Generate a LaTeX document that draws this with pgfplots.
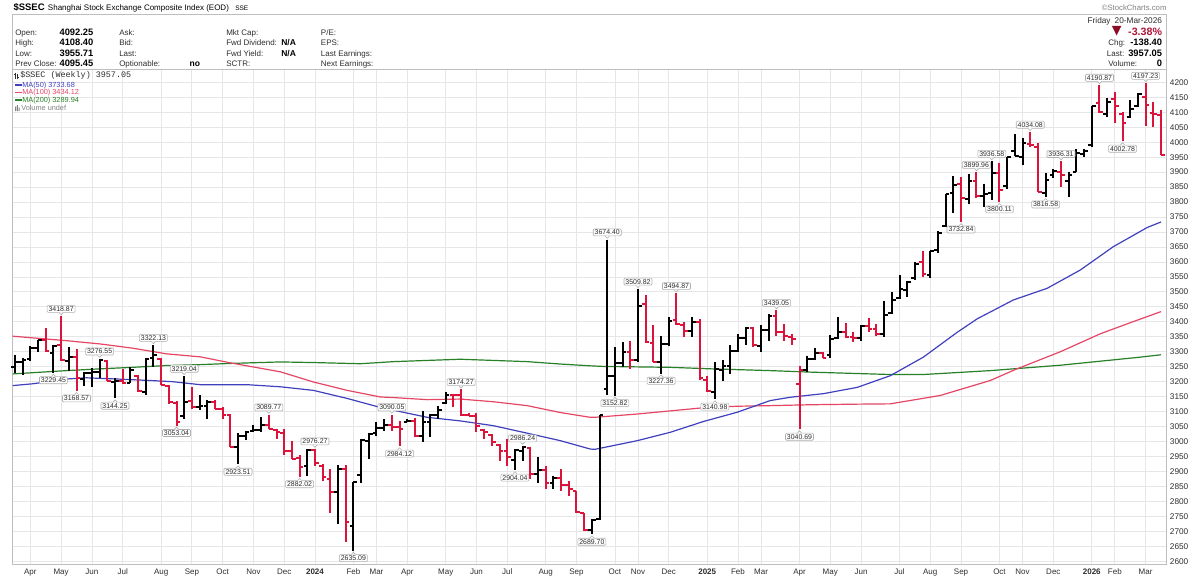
\documentclass[border=0pt]{standalone}
\usepackage{pgfplots}
\pgfplotsset{compat=1.18}
\usepackage{pgfplotstable}
\usepackage{fontspec}
\setmainfont{Liberation Sans}
\newfontfamily\monofont{Liberation Mono}
\newfontfamily\symbolfont{DejaVu Sans}

\definecolor{barred}{RGB}{220,20,60}
\definecolor{ma50}{RGB}{64,64,190}
\definecolor{ma100}{RGB}{228,70,100}
\definecolor{ma200}{RGB}{40,128,40}
\definecolor{gridgray}{RGB}{230,230,232}
\definecolor{yeargray}{RGB}{198,198,200}
\definecolor{framegray}{RGB}{190,190,190}
\definecolor{txtgray}{RGB}{45,45,45}
\definecolor{lblgray}{RGB}{175,175,175}
\definecolor{losscol}{RGB}{175,20,55}
\definecolor{lossdark}{RGB}{140,12,40}

\newcommand\fs[1]{\fontsize{#1}{#1}\selectfont}

% weekly OHLC of $SSEC, weeks closing above the previous close
\pgfplotstableread{
i o h l c
0 3250 3290 3229 3266
1 3266 3280 3221 3273
2 3275 3318 3270 3312
3 3312 3340 3298 3338
5 3295 3323 3229.45 3320
7 3270 3315 3237 3284
9 3208 3232 3185 3230
10 3230 3245 3182 3231
11 3231 3276.55 3212 3273
13 3198 3212 3144.25 3202
15 3197 3248 3196 3238
17 3165 3278 3154 3276
18 3278 3322.13 3248 3288
22 3085 3219.04 3075 3133
24 3117 3155 3105 3118
25 3118 3138 3077 3132
29 2983 3027 2923.51 3018
30 3018 3035 3004 3031
31 3035 3055 3032 3039
32 3040 3082 3032 3054
38 2917 2975 2886 2972
42 2830 2921 2724 2910
44 2718 2866 2635.09 2866
45 2888 3008 2863 3005
46 3002 3030 2941 3025
47 3027 3064 3019 3046
48 3046 3075 3036 3055
51 3066 3077 3064 3069
53 3019 3103 2997 3065
54 3065 3092 3014 3089
55 3088 3120 3077 3105
56 3130 3164 3125 3155
65 2940 2975 2904.04 2971
66 2970 2986.24 2936 2982
68 2890 2947 2863 2905
70 2860 2886 2841 2879
75 2705 2742 2689.70 2737
76 2740 3087.53 2737 3087.53
77 3174 3674.40 3155 3218
78 3220 3315 3152.82 3262
79 3262 3332 3248 3300
81 3272 3509.82 3265 3452
84 3265 3354 3227.36 3326
85 3326 3415 3320 3404
88 3368 3415 3349 3400
91 3165 3265 3140.98 3242
92 3240 3271 3204 3253
93 3253 3321 3226 3304
94 3304 3360 3299 3347
95 3347 3382 3321 3379
97 3320 3390 3299 3373
98 3373 3425 3337 3420
103 3238 3287 3232 3277
104 3277 3312 3271 3295
106 3290 3356 3280 3342
107 3345 3415 3343 3367
110 3347 3388 3337 3385
113 3360 3468 3349 3424
114 3430 3499 3427 3472
115 3478 3555 3477 3510
116 3505 3535 3482 3534
117 3545 3600 3541 3594
119 3555 3638 3546 3635
120 3640 3702 3630 3697
121 3720 3826 3716 3826
122 3830 3886 3764 3858
124 3810 3894 3794 3871
126 3820 3862 3785 3828
127 3830 3936.58 3807 3897
129 3855 3952 3845 3950
130 3970 4027 3954 3955
131 3950 4013 3924 3998
134 3830 3896 3816.58 3875
135 3890 3909 3880 3903
137 3870 3901 3818 3890
138 3900 3976 3900 3964
139 3960 3976 3952 3969
140 3990 4122 3985 4120
142 4094 4147 4085 4135
145 4085 4141 4080 4110
146 4120 4165 4119 4162
}\upweeks

% weeks closing below the previous close
\pgfplotstableread{
i o h l c
4 3338 3378 3300 3301
6 3323 3418.87 3270 3272
8 3284 3310 3168.57 3212
12 3268 3273 3204 3204
14 3202 3243 3193 3197
16 3218 3221 3165 3168
19 3275 3278 3189 3189
20 3185 3189 3126 3132
21 3130 3134 3053.04 3064
23 3135 3183 3110 3117
26 3132 3138 3110 3110
27 3110 3116 3077 3088
28 3088 3093 2982 2983
33 3055 3089.77 3043 3041
34 3040 3043 3010 3032
35 3030 3043 2954 2970
36 2970 3001 2941 2943
37 2945 2954 2882.02 2915
39 2972 2976.27 2917 2929
40 2920 2924 2869 2882
41 2874 2908 2763 2832
43 2910 2921 2663 2730
49 3055 3090.05 3036 3048
50 3048 3069 2984.12 3041
52 3069 3080 3014 3019
57 3155 3158 3114 3154
58 3155 3174.27 3086 3089
59 3090 3097 3084 3087
60 3087 3097 3033 3051
61 3040 3042 3008 3033
62 3022 3025 2984 2998
63 2988 2991 2936 2967
64 2968 3008 2919 2950
67 2980 2981 2875 2891
69 2905 2919 2841 2862
71 2879 2908 2836 2854
72 2855 2869 2817 2842
73 2835 2836 2763 2766
74 2760 2763 2702 2704
80 3300 3337 3243 3272
82 3460 3490 3328 3331
83 3330 3388 3265 3267
86 3405 3494.87 3388 3392
87 3390 3399 3349 3368
89 3400 3410 3205 3211
90 3205 3220 3165 3169
96 3379 3382 3315 3321
99 3420 3439.05 3354 3365
100 3365 3393 3337 3351
101 3350 3360 3321 3342
102 3193 3254 3040.69 3238
105 3296 3298 3278 3279
108 3367 3396 3345 3348
109 3348 3365 3334 3347
111 3385 3412 3365 3377
112 3377 3393 3354 3360
118 3600 3635 3549 3560
123 3860 3883 3732.84 3813
125 3870 3899.96 3815 3820
128 3897 3932 3800.11 3840
132 3995 4034.08 3983 3990
133 3985 3996 3835 3835
136 3900 3936.31 3851 3889
141 4130 4190.87 4099 4101
143 4146 4169 4065 4121
144 4095 4102 4002.78 4065
147 4152 4197.23 4054 4124
148 4099 4135 4052 4095.45
149 4092.25 4108.40 3955.71 3957.05
}\downweeks

% left (open) and right (close) ticks of an OHLC bar
\pgfdeclareplotmark{opentick}{%
  \pgfpathmoveto{\pgfqpoint{-2.8pt}{0pt}}\pgfpathlineto{\pgfqpoint{0pt}{0pt}}\pgfusepathqstroke}
\pgfdeclareplotmark{closetick}{%
  \pgfpathmoveto{\pgfqpoint{0pt}{0pt}}\pgfpathlineto{\pgfqpoint{2.8pt}{0pt}}\pgfusepathqstroke}

\pgfplotsset{
  hlrange/.style={only marks, mark=*, mark size=0pt, mark options={draw=none, fill=none},
    error bars/.cd, y dir=minus, y explicit, error mark=none,
    error bar style={draw=#1, line width=1.5pt, line cap=butt}},
  tickmarks/.style 2 args={only marks, mark=#1,
    mark options={draw=#2, line width=1.5pt, line cap=butt}},
}

\tikzset{vbox/.style={draw=lblgray, fill=white, rounded corners=0.8pt, line width=0.45pt,
   inner xsep=1.1pt, inner ysep=0.8pt, font=\fs{5.2}, text=txtgray,
   text height=3.7pt, text depth=0pt}}

% value tag above a weekly high
\newcommand\hilabel[2]{%
  \node[vbox, anchor=south, yshift=2.6pt] at (axis cs:#1,#2) {#2};
  \fill[white] (axis cs:#1,#2) ++(-1.5pt,2.9pt) -- ++(1.5pt,-1.7pt) -- ++(1.5pt,1.7pt) -- cycle;
  \draw[lblgray, line width=0.45pt] (axis cs:#1,#2) ++(-1.5pt,2.6pt) -- ++(1.5pt,-1.5pt) -- ++(1.5pt,1.5pt);
}
% value tag below a weekly low
\newcommand\lolabel[2]{%
  \node[vbox, anchor=north, yshift=-2.6pt] at (axis cs:#1,#2) {#2};
  \fill[white] (axis cs:#1,#2) ++(-1.5pt,-2.9pt) -- ++(1.5pt,1.7pt) -- ++(1.5pt,-1.7pt) -- cycle;
  \draw[lblgray, line width=0.45pt] (axis cs:#1,#2) ++(-1.5pt,-2.6pt) -- ++(1.5pt,1.5pt) -- ++(1.5pt,-1.5pt);
}

\begin{document}
\begin{tikzpicture}
\useasboundingbox (0,0) rectangle (900pt,-433.5pt);

\begin{axis}[
  at={(9.225pt,-423pt)}, anchor=south west,
  scale only axis, width=865.8pt, height=370.9pt,
  xmin=-0.35, xmax=149.74, ymin=2591, ymax=4243,
  clip=false,
  axis line style={draw=framegray, line width=0.6pt},
  major tick length=0pt,
  grid=major,
  major grid style={draw=gridgray, line width=0.6pt},
  xtick={2,6,10,14,19,23,27,31,35,39,44,47,51,56,60,64,69,73,78,81,85,90,94,97,102,106,110,115,119,123,128,131,135,140,143,147},
  xticklabels={Apr,May,Jun,Jul,Aug,Sep,Oct,Nov,Dec,\textbf{2024},Feb,Mar,Apr,May,Jun,Jul,Aug,Sep,Oct,Nov,Dec,\textbf{2025},Feb,Mar,Apr,May,Jun,Jul,Aug,Sep,Oct,Nov,Dec,\textbf{2026},Feb,Mar},
  extra x ticks={39,90,140},
  extra x tick labels={},
  extra x tick style={grid style={draw=yeargray, line width=0.6pt}},
  ytick={2600,2650,...,4200},
  yticklabel pos=right,
  xticklabel style={font=\fs{6}, text=txtgray, inner sep=0pt, yshift=-3.2pt},
  yticklabel style={font=\fs{6.2}, text=txtgray, inner sep=0pt, xshift=2.2pt},
  /pgf/number format/.cd, assume math mode=true, 1000 sep={}, fixed,
]

% moving averages of the weekly close
\addplot[ma200, line width=0.9pt] coordinates {
 (-0.3,3226) (6.7,3237) (11.1,3243) (15.3,3248) (19.7,3254) (24.1,3257) (28,3261)
 (34.5,3266) (38.8,3264) (44.9,3260) (49.2,3267) (57.9,3275) (66.6,3267) (70.9,3259)
 (74.8,3253) (76.5,3251) (85.2,3248) (90.4,3243) (98.2,3237) (103.4,3232) (113.8,3224)
 (118.1,3224) (126.8,3237) (135.9,3255) (146.3,3282) (149,3289.94)};
\addplot[ma100, line width=0.9pt] coordinates {
 (-0.3,3352) (6.7,3337) (11.1,3326) (15.3,3312) (19.7,3293) (24.1,3283) (28,3263)
 (34.5,3233) (38.8,3199) (43.2,3171) (47.5,3149) (49.2,3147) (53.6,3140) (57.9,3142)
 (62.2,3133) (66.6,3120) (70.9,3097) (74.8,3081) (75.4,3081) (80.9,3092) (89.5,3113)
 (93.9,3118) (98.2,3120) (103.4,3123) (109.5,3125) (113.8,3126) (120.3,3154)
 (126.8,3204) (130,3240) (135.9,3300) (141.1,3360) (145,3397) (149,3434.12)};
\addplot[ma50, line width=0.9pt] coordinates {
 (-0.3,3187) (2.3,3193) (6.7,3209) (9.3,3213) (13.2,3209) (17.6,3204) (20.5,3200)
 (24.1,3190) (30.2,3190) (34.5,3183) (38.8,3171) (43.2,3144) (47.5,3114) (53.6,3081)
 (57.9,3069) (62.2,3053) (66.6,3028) (70.9,3003) (74.8,2975) (75.4,2974) (80.9,3003)
 (85.2,3031) (89.5,3067) (93.9,3098) (98.2,3137) (100.8,3148) (105.1,3160) (109.5,3181)
 (113.8,3220) (118.1,3282) (122.5,3365) (125.1,3410) (129.8,3473) (134.2,3512)
 (138.5,3573) (142.8,3651) (147.2,3715) (149,3733.68)};

% OHLC bars: high-low range, open tick on the left, close tick on the right
\addplot[hlrange=black] table[x=i, y=h, y error expr={\thisrow{h}-\thisrow{l}}] {\upweeks};
\addplot[tickmarks={opentick}{black}] table[x=i, y=o] {\upweeks};
\addplot[tickmarks={closetick}{black}] table[x=i, y=c] {\upweeks};
\addplot[hlrange=barred] table[x=i, y=h, y error expr={\thisrow{h}-\thisrow{l}}] {\downweeks};
\addplot[tickmarks={opentick}{barred}] table[x=i, y=o] {\downweeks};
\addplot[tickmarks={closetick}{barred}] table[x=i, y=c] {\downweeks};

% swing highs and lows
\hilabel{6}{3418.87}
\hilabel{11}{3276.55}
\hilabel{18}{3322.13}
\hilabel{22}{3219.04}
\hilabel{33}{3089.77}
\hilabel{39}{2976.27}
\hilabel{49}{3090.05}
\hilabel{58}{3174.27}
\hilabel{66}{2986.24}
\hilabel{77}{3674.40}
\hilabel{81}{3509.82}
\hilabel{86}{3494.87}
\hilabel{99}{3439.05}
\hilabel{125}{3899.96}
\hilabel{127}{3936.58}
\hilabel{132}{4034.08}
\hilabel{136}{3936.31}
\hilabel{141}{4190.87}
\hilabel{147}{4197.23}
\lolabel{5}{3229.45}
\lolabel{8}{3168.57}
\lolabel{13}{3144.25}
\lolabel{21}{3053.04}
\lolabel{29}{2923.51}
\lolabel{37}{2882.02}
\lolabel{44}{2635.09}
\lolabel{50}{2984.12}
\lolabel{65}{2904.04}
\lolabel{75}{2689.70}
\lolabel{78}{3152.82}
\lolabel{84}{3227.36}
\lolabel{91}{3140.98}
\lolabel{102}{3040.69}
\lolabel{123}{3732.84}
\lolabel{128}{3800.11}
\lolabel{134}{3816.58}
\lolabel{144}{4002.78}
\end{axis}

% header, quote box and legend (coordinates in pixels, y downwards)
\begin{scope}[x=0.75pt, y=-0.75pt, every node/.style={inner sep=0pt}]
  \node[anchor=base west, font=\fs{7.1}\bfseries] at (13.3,10.7) {\$SSEC};
  \node[anchor=base west, font=\fs{6}] at (47.7,10.7) {Shanghai Stock Exchange Composite Index (EOD)};
  \node[anchor=base west, font=\fs{4.9}] at (235,10.7) {SSE};
  \node[anchor=base east, font=\fs{5.8}, text=gray] at (1166.7,10.7) {©StockCharts.com};

  \draw[framegray, line width=0.6pt] (12.3,14.7) rectangle (1166.7,69.5);

  \node[anchor=base west, font=\fs{6}, text=txtgray] at (15,35.2) {Open:};
  \node[anchor=base west, font=\fs{6}, text=txtgray] at (15,45.6) {High:};
  \node[anchor=base west, font=\fs{6}, text=txtgray] at (15,56.2) {Low:};
  \node[anchor=base west, font=\fs{6}, text=txtgray] at (15,66.9) {Prev Close:};
  \node[anchor=base west, font=\fs{7}\bfseries] at (59.3,35.2) {4092.25};
  \node[anchor=base west, font=\fs{7}\bfseries] at (59.3,45.6) {4108.40};
  \node[anchor=base west, font=\fs{7}\bfseries] at (59.3,56.2) {3955.71};
  \node[anchor=base west, font=\fs{7}\bfseries] at (59.3,66.9) {4095.45};
  \node[anchor=base west, font=\fs{6}, text=txtgray] at (119,35.2) {Ask:};
  \node[anchor=base west, font=\fs{6}, text=txtgray] at (119,45.6) {Bid:};
  \node[anchor=base west, font=\fs{6}, text=txtgray] at (119,56.2) {Last:};
  \node[anchor=base west, font=\fs{6}, text=txtgray] at (119,66.9) {Optionable:};
  \node[anchor=base west, font=\fs{6.4}\bfseries] at (189.3,66.9) {no};
  \node[anchor=base west, font=\fs{6}, text=txtgray] at (226,35.2) {Mkt Cap:};
  \node[anchor=base west, font=\fs{6}, text=txtgray] at (226,45.6) {Fwd Dividend:};
  \node[anchor=base west, font=\fs{6}, text=txtgray] at (226,56.2) {Fwd Yield:};
  \node[anchor=base west, font=\fs{6}, text=txtgray] at (226,66.9) {SCTR:};
  \node[anchor=base west, font=\fs{6.4}\bfseries] at (281,45.6) {N/A};
  \node[anchor=base west, font=\fs{6.4}\bfseries] at (281,56.2) {N/A};
  \node[anchor=base west, font=\fs{6}, text=txtgray] at (320.7,35.2) {P/E:};
  \node[anchor=base west, font=\fs{6}, text=txtgray] at (320.7,45.6) {EPS:};
  \node[anchor=base west, font=\fs{6}, text=txtgray] at (320.7,56.2) {Last Earnings:};
  \node[anchor=base west, font=\fs{6}, text=txtgray] at (320.7,66.9) {Next Earnings:};

  \node[anchor=base east, font=\fs{6.2}, text=txtgray] at (1162.3,23) {Friday\enspace 20-Mar-2026};
  \node[font=\fs{9.5}\symbolfont, text=lossdark] at (1116.7,31.4) {▼};
  \node[anchor=base east, font=\fs{8}\bfseries, text=losscol] at (1162.3,35.5) {-3.38\%};
  \node[anchor=base west, font=\fs{6}, text=txtgray] at (1108,45.6) {Chg:};
  \node[anchor=base east, font=\fs{7}\bfseries] at (1162.3,45.6) {-138.40};
  \node[anchor=base west, font=\fs{6}, text=txtgray] at (1106.7,56.2) {Last:};
  \node[anchor=base east, font=\fs{7}\bfseries] at (1162.3,56.2) {3957.05};
  \node[anchor=base west, font=\fs{6}, text=txtgray] at (1108,66.9) {Volume:};
  \node[anchor=base east, font=\fs{7}\bfseries] at (1162.3,66.9) {0};

  % legend
  \draw[txtgray, line width=0.6pt] (15.5,72.5) -- (15.5,79) (14.3,74.5) -- (15.5,74.5)
        (17.5,73.5) -- (17.5,78.5) (17.5,77) -- (18.7,77);
  \node[anchor=base west, font=\fs{6.3}\monofont, text=txtgray] at (20,77.6) {\$SSEC (Weekly) 3957.05};
  \draw[ma50, line width=1.2pt] (15,85) -- (21.5,85);
  \node[anchor=base west, font=\fs{5.5}, text=ma50] at (22,87.6) {MA(50) 3733.68};
  \draw[ma100, line width=1.2pt] (15,92.3) -- (21.5,92.3);
  \node[anchor=base west, font=\fs{5.5}, text=ma100] at (22,94.9) {MA(100) 3434.12};
  \draw[ma200, line width=1.2pt] (15,100) -- (21.5,100);
  \node[anchor=base west, font=\fs{5.5}, text=ma200] at (22,102.6) {MA(200) 3289.94};
  \fill[gray] (15,106.5) rectangle (16,111) (16.8,105) rectangle (17.8,111) (18.6,107.5) rectangle (19.6,111);
  \node[anchor=base west, font=\fs{5.5}, text=gray] at (21,110.9) {Volume undef};
\end{scope}
\end{tikzpicture}
\end{document}
